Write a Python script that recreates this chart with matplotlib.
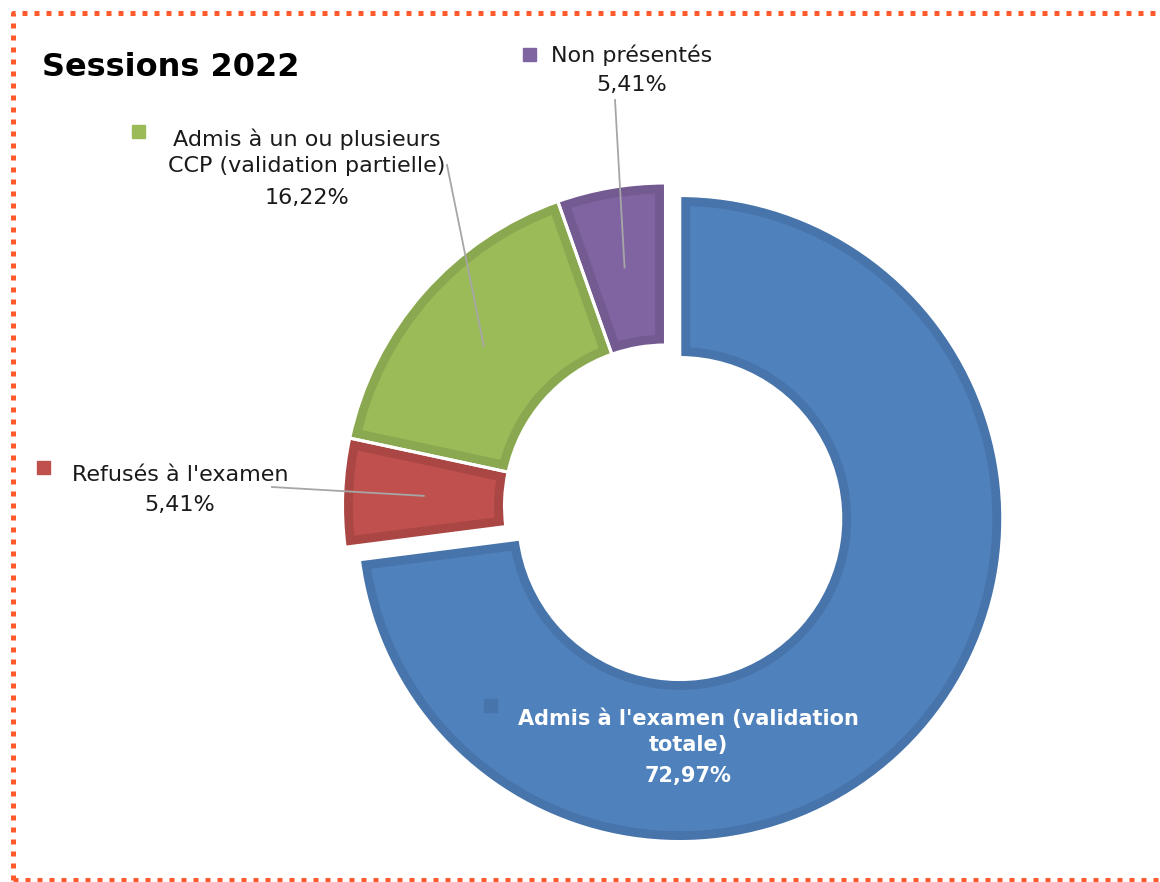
import numpy as np
import matplotlib
matplotlib.use("Agg")
import matplotlib.pyplot as plt
from matplotlib.patches import Rectangle, Wedge

# ---- data ----
categories = ["Admis à l'examen (validation\ntotale)", "Refusés à l'examen",
              "Admis à un ou plusieurs\nCCP (validation partielle)", "Non présentés"]
values = [72.97, 5.41, 16.22, 5.41]
face_colors = ["#4F81BD", "#C0504D", "#9BBB59", "#8064A2"]
edge_colors = ["#4774AA", "#AA4744", "#8AA84F", "#735A90"]
explode_px = [19, 0, 0, 0]
title = "Sessions 2022"

W, H = 1160, 882
fig = plt.figure(figsize=(W / 100, H / 100), dpi=100)
ax = fig.add_axes([0, 0, 1, 1])

cx, cy = 665.5, H - 506
R = 323
ring = 162

wedges, _ = ax.pie(values, colors=face_colors, startangle=90, counterclock=False,
                   radius=R, center=(cx, cy), explode=explode_px,
                   wedgeprops=dict(width=ring, linewidth=0))
ax.set_xlim(0, W)
ax.set_ylim(0, H)
ax.set_aspect("equal")
ax.axis("off")
for w, ec in zip(wedges, edge_colors):
    clip = Wedge(w.center, w.r, w.theta1, w.theta2, width=w.width,
                 transform=ax.transData)
    w.set_edgecolor(ec)
    w.set_linewidth(15)
    w.set_clip_on(True)
    w.set_clip_path(clip)
    sep = Wedge(w.center, w.r, w.theta1, w.theta2, width=w.width,
                facecolor="none", edgecolor="white", linewidth=2.2,
                transform=ax.transData, zorder=w.get_zorder() + 0.1)
    ax.add_patch(sep)

def pct(v):
    return f"{v:.2f}".replace(".", ",") + "%"

def mid_point(w, rfrac):
    ang = np.deg2rad((w.theta1 + w.theta2) / 2)
    x0, y0 = w.center
    r = w.r - w.width * rfrac
    return x0 + r * np.cos(ang), y0 + r * np.sin(ang)

font = ["DejaVu Sans"]
lab_fs = 16
txtcol = "#1a1a1a"

# Leader lines
leader_starts = {3: (615, H - 100), 2: (447, H - 165), 1: (272, H - 487)}
for i, (sx, sy) in leader_starts.items():
    ex, ey = mid_point(wedges[i], 0.5)
    ax.plot([sx, ex], [sy, ey], color="#A6A6A6", lw=1.3, zorder=5)

# Non présentés
ax.text(632, H - 55, categories[3], ha="center", va="center", fontsize=lab_fs,
        family=font, color=txtcol, zorder=6)
ax.text(632, H - 85, pct(values[3]), ha="center", va="center", fontsize=lab_fs,
        family=font, color=txtcol, zorder=6)
ax.add_patch(Rectangle((523, H - 61), 13, 13, color=face_colors[3], zorder=6))

# CCP
ax.text(307, H - 152, categories[2], ha="center", va="center", fontsize=lab_fs,
        family=font, color=txtcol, linespacing=1.35, zorder=6)
ax.text(307, H - 198, pct(values[2]), ha="center", va="center", fontsize=lab_fs,
        family=font, color=txtcol, zorder=6)
ax.add_patch(Rectangle((132, H - 138), 13, 13, color=face_colors[2], zorder=6))

# Refusés
ax.text(180, H - 475, categories[1], ha="center", va="center", fontsize=lab_fs,
        family=font, color=txtcol, zorder=6)
ax.text(180, H - 505, pct(values[1]), ha="center", va="center", fontsize=lab_fs,
        family=font, color=txtcol, zorder=6)
ax.add_patch(Rectangle((37, H - 474), 13, 13, color=face_colors[1], zorder=6))

# Admis total
ax.text(688, H - 732, categories[0], ha="center", va="center", fontsize=15,
        family=font, weight="bold", color="white", linespacing=1.35, zorder=6)
ax.text(688, H - 776, pct(values[0]), ha="center", va="center", fontsize=15,
        family=font, weight="bold", color="white", zorder=6)
ax.add_patch(Rectangle((484, H - 712), 13, 13, color=edge_colors[0], zorder=6))

# Title
ax.text(42, H - 67, title, ha="left", va="center", fontsize=23, family=font,
        weight="bold", color="black")

# Dotted border
ax.plot([13, 13, 1200], [H - 880, H - 13, H - 13], color="#FF5A2D", lw=3.6,
        linestyle=(0, (1, 1.4)), dash_capstyle="butt", clip_on=False)
ax.plot([13, 1200], [H - 880, H - 880], color="#FF5A2D", lw=3.6,
        linestyle=(0, (1, 1.4)), dash_capstyle="butt", clip_on=False)

fig.savefig("out.png", dpi=100, facecolor="white")
